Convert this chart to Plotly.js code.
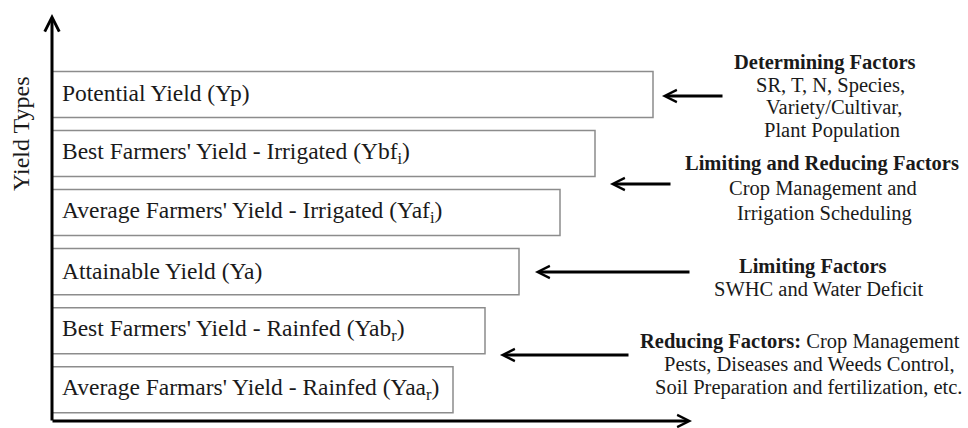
<!DOCTYPE html>
<html>
<head>
<meta charset="utf-8">
<script src="https://cdn.plot.ly/plotly-3.0.1.min.js"></script>
<style>html,body{margin:0;padding:0;background:#fff;}#chart{width:968px;height:428px;}</style>
</head>
<body>
<div id="chart"></div>
<script>
// ---- data (bottom to top) ----
const yieldIds = ["Yaar", "Yabr", "Ya", "Yafi", "Ybfi", "Yp"];
const yieldLabels = [
  "Average Farmars' Yield - Rainfed (Yaa<sub>r</sub>)",
  "Best Farmers' Yield - Rainfed (Yab<sub>r</sub>)",
  "Attainable Yield (Ya)",
  "Average Farmers' Yield - Irrigated (Yaf<sub>i</sub>)",
  "Best Farmers' Yield - Irrigated (Ybf<sub>i</sub>)",
  "Potential Yield (Yp)"
];
const yieldValues = [401, 433, 467, 508, 543, 601];

const determiningFactors = ["<b>Determining Factors</b>", "SR, T, N, Species,", "Variety/Cultivar,", "Plant Population"];
const limitingReducingFactors = ["<b>Limiting and Reducing Factors</b>", "Crop Management and", "Irrigation Scheduling"];
const limitingFactors = ["<b>Limiting Factors</b>", "SWHC and Water Deficit"];
const reducingFactors = ["<b>Reducing Factors:</b> Crop Management", "Pests, Diseases and Weeds Control,", "Soil Preparation and fertilization, etc."];
const axisTitle = "Yield Types";

// ---- layout helpers (pixel -> paper) ----
const W = 968, H = 428, ML = 52, MB = 7, MT = 0, MR = 0;
const PW = W - ML - MR, PH = H - MT - MB;
const px = x => (x - ML) / PW;
const py = y => 1 - (y - MT) / PH;

const serif = "'Liberation Serif', 'Times New Roman', serif";
const ink = "#1a1a1a";

const trace = {
  type: "bar",
  orientation: "h",
  y: yieldIds,
  x: yieldValues,
  base: 0,
  marker: {color: "#ffffff", line: {color: "#8c8c8c", width: 1.5}},
  width: 0.78,
  hoverinfo: "skip"
};

const annotations = [];
// bar labels
yieldIds.forEach((id, i) => {
  annotations.push({
    xref: "x", yref: "y", x: 0, y: id, xanchor: "left", yanchor: "middle",
    xshift: 8, yshift: 1, showarrow: false, text: yieldLabels[i],
    font: {family: serif, size: 23.5, color: ink}
  });
});
// axis arrows
const arrowStyle = {text: "", showarrow: true, arrowhead: 5, arrowsize: 0.8, arrowwidth: 3, arrowcolor: "#000", xref: "paper", yref: "paper", axref: "pixel", ayref: "pixel", standoff: 0, startstandoff: 0};
annotations.push(Object.assign({}, arrowStyle, {x: px(692), y: py(421), ax: -(692 - 51), ay: 0}));
annotations.push(Object.assign({}, arrowStyle, {x: px(52), y: py(14), ax: 0, ay: 421 - 14 + 1, arrowsize: 0.95}));
// factor arrows: [tipX, tailX, y]
const factorArrows = [[662, 724, 96], [610, 672, 184], [535, 691, 272], [500, 630, 355]];
factorArrows.forEach(a => {
  annotations.push(Object.assign({}, arrowStyle, {x: px(a[0]), y: py(a[2]), ax: a[1] - a[0], ay: 0}));
});
// factor text blocks: lines, line centre x, first line y, line step
const blocks = [
  {lines: determiningFactors, cx: [825, 830, 834, 832], y0: 62, dy: 23},
  {lines: limitingReducingFactors, cx: [822, 823, 824], y0: 164, dy: 24.5},
  {lines: limitingFactors, cx: [812, 818], y0: 266, dy: 23},
  {lines: reducingFactors, cx: [800, 809, 808], y0: 341, dy: 23}
];
blocks.forEach(b => {
  b.lines.forEach((t, j) => {
    annotations.push({
      xref: "paper", yref: "paper", x: px(b.cx[j]), y: py(b.y0 + j * b.dy),
      xanchor: "center", yanchor: "middle", align: "center", showarrow: false,
      text: t, font: {family: serif, size: 20.5, color: ink}
    });
  });
});
// y axis title
annotations.push({
  xref: "paper", yref: "paper", x: px(21), y: py(134), xanchor: "center", yanchor: "middle",
  textangle: -90, showarrow: false, text: axisTitle,
  font: {family: serif, size: 24, color: ink}
});

const layout = {
  width: W, height: H,
  margin: {l: ML, r: MR, t: MT, b: MB, pad: 0},
  paper_bgcolor: "#ffffff", plot_bgcolor: "#ffffff",
  showlegend: false,
  xaxis: {range: [0, PW], visible: false, fixedrange: true},
  yaxis: {type: "category", categoryarray: yieldIds, range: [-0.529, 6.599], visible: false, fixedrange: true},
  annotations: annotations
};

Plotly.newPlot("chart", [trace], layout, {staticPlot: true, displayModeBar: false});
</script>
</body>
</html>
